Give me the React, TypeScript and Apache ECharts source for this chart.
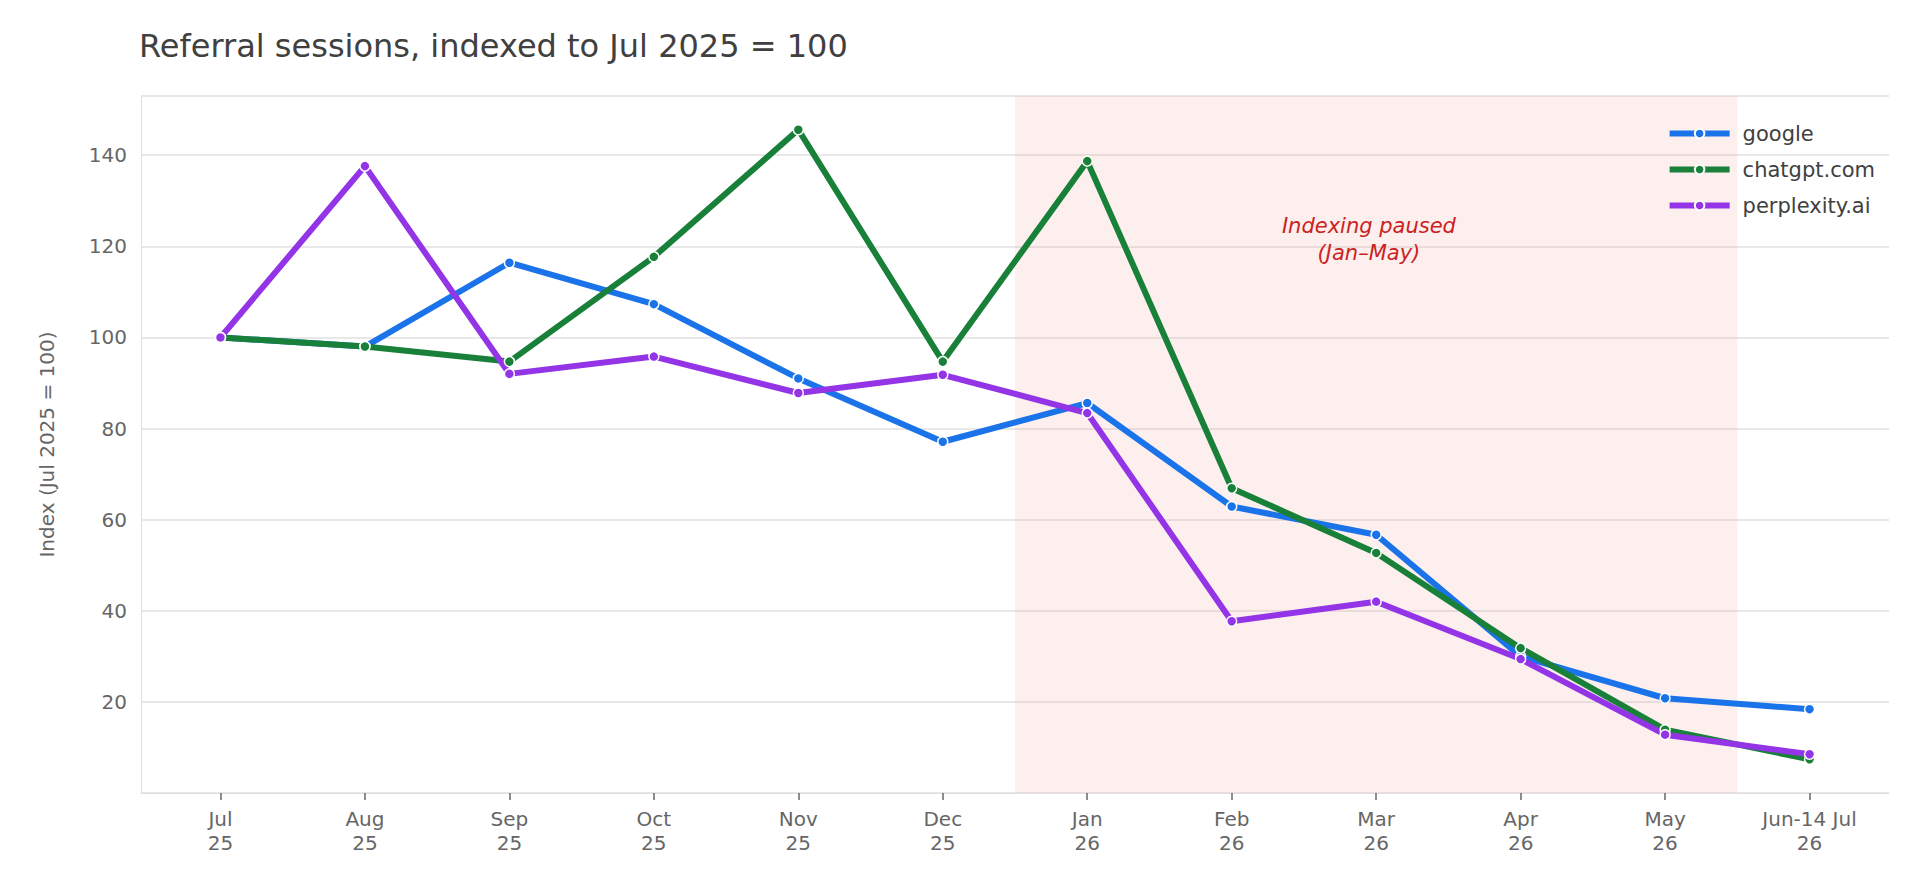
import React, { useEffect, useRef } from "react";
import * as echarts from "echarts";

const categories = ["Jul\n25", "Aug\n25", "Sep\n25", "Oct\n25", "Nov\n25", "Dec\n25", "Jan\n26", "Feb\n26", "Mar\n26", "Apr\n26", "May\n26", "Jun-14 Jul\n26"];
const google = [100, 98, 116.4, 107.3, 91, 77.1, 85.6, 62.9, 56.7, 30, 20.8, 18.4];
const chatgpt = [100, 98, 94.7, 117.7, 145.6, 94.7, 138.7, 66.9, 52.7, 31.8, 13.9, 7.4];
const perplexity = [100, 137.6, 92, 95.8, 87.8, 91.8, 83.4, 37.7, 42, 29.4, 12.8, 8.5];
const yTicks = [20, 40, 60, 80, 100, 120, 140];

const FONT = "DejaVu Sans";

const App: React.FC = () => {
  const chartRef = useRef<HTMLDivElement>(null);

  useEffect(() => {
    const chart = echarts.init(chartRef.current, null, { renderer: "svg" });
    const idx = categories.map((_, i) => i);
    const mk = (name: string, data: number[], color: string, extra: any = {}) => ({
      name,
      type: "line",
      data: data.map((v, i) => [i, v]),
      symbol: "circle",
      symbolSize: 10,
      lineStyle: { width: 6, color },
      itemStyle: { color, borderColor: "#fff", borderWidth: 1.5 },
      ...extra,
    });
    chart.setOption({
      animation: false,
      textStyle: { fontFamily: FONT },
      title: {
        text: "Referral sessions, indexed to Jul 2025 = 100",
        left: 134,
        top: 25,
        textStyle: { fontSize: 32, fontWeight: "normal", color: "#404040", fontFamily: FONT },
      },
      legend: {
        right: 40,
        top: 118,
        orient: "vertical",
        itemWidth: 60,
        itemHeight: 12,
        itemGap: 15,
        lineStyle: { width: 6 },
        textStyle: { fontSize: 21, color: "#404040", fontFamily: FONT, padding: [0, 0, 0, 8] },
        data: ["google", "chatgpt.com", "perplexity.ai"],
      },
      grid: { left: 141, right: 31, top: 96, bottom: 103 },
      xAxis: {
        type: "value",
        min: -0.55,
        max: 11.55,
        axisLine: { show: true, onZero: false, lineStyle: { color: "#e0e0e0" } },
        axisTick: { show: true, length: 7, customValues: idx, lineStyle: { color: "#666", width: 1.5 } },
        splitLine: { show: false },
        axisLabel: {
          fontSize: 20,
          color: "#666",
          lineHeight: 24,
          margin: 14,
          customValues: idx,
          formatter: (v: number) => categories[Math.round(v)] ?? "",
        },
      },
      yAxis: {
        type: "value",
        min: 0,
        max: 153,
        interval: 20,
        name: "Index (Jul 2025 = 100)",
        nameLocation: "middle",
        nameGap: 84,
        nameTextStyle: { fontSize: 20, color: "#666" },
        axisLine: { show: true, onZero: false, lineStyle: { color: "#e0e0e0" } },
        axisTick: { show: false },
        splitLine: { lineStyle: { color: "#e8e8e8", width: 2 } },
        axisLabel: {
          fontSize: 20,
          color: "#666",
          margin: 14,
          formatter: (v: number) => (yTicks.includes(v) ? String(v) : ""),
        },
      },
      series: [
        mk("google", google, "#1a73e8", {
          markArea: {
            silent: true,
            itemStyle: { color: "rgba(230,130,120,0.13)" },
            data: [[{ xAxis: 5.5 }, { xAxis: 10.5 }]],
          },
          markPoint: {
            symbol: "circle",
            symbolSize: 0,
            label: {
              show: true,
              formatter: "Indexing paused\n(Jan–May)",
              color: "#cc2222",
              fontStyle: "italic",
              fontSize: 21,
              lineHeight: 27,
              align: "center",
            },
            data: [{ coord: [7.95, 121.5] }],
          },
        }),
        mk("chatgpt.com", chatgpt, "#188038"),
        mk("perplexity.ai", perplexity, "#9334e6"),
      ],
    });
    return () => chart.dispose();
  }, []);

  return (
    <div
      ref={chartRef}
      style={{ position: "fixed", left: 0, top: 0, width: 1920, height: 896, background: "#fff" }}
    />
  );
};

export default App;
